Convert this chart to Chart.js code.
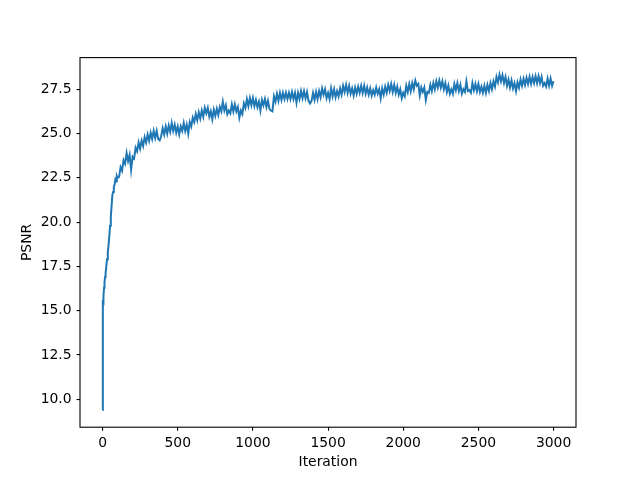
<!DOCTYPE html>
<html>
<head>
<meta charset="utf-8">
<script src="https://cdn.jsdelivr.net/npm/chart.js@4/dist/chart.umd.min.js"></script>
<style>
html,body{margin:0;padding:0;background:#fff;}
canvas{display:block;}
</style>
</head>
<body>
<canvas id="c" width="640" height="480"></canvas>
<script>
// ---- data ----
const iterations = [
  0,1,2,3,4,5,7,10,13,17,20,25,30,35,40,45,50,55,60,65,70,75,80,85,90,95,100,
  110,120,130,140,150,160,170,180,190,
  200,210,220,230,240,250,260,270,280,290,
  300,310,320,330,340,350,360,370,380,390,
  400,410,420,430,440,450,460,470,480,490,
  500,510,520,530,540,550,560,570,580,590,
  600,610,620,630,640,650,660,670,680,690,
  700,710,720,730,740,750,760,770,780,790,
  800,810,820,830,840,850,860,870,880,890,
  900,910,920,930,940,950,960,970,980,990,
  1000,1010,1020,1030,1040,1050,1060,1070,1080,1090,
  1100,1110,1120,1130,1140,1150,1160,1170,1180,1190,
  1200,1210,1220,1230,1240,1250,1260,1270,1280,1290,
  1300,1310,1320,1330,1340,1350,1360,1370,1380,1390,
  1400,1410,1420,1430,1440,1450,1460,1470,1480,1490,
  1500,1510,1520,1530,1540,1550,1560,1570,1580,1590,
  1600,1610,1620,1630,1640,1650,1660,1670,1680,1690,
  1700,1710,1720,1730,1740,1750,1760,1770,1780,1790,
  1800,1810,1820,1830,1840,1850,1860,1870,1880,1890,
  1900,1910,1920,1930,1940,1950,1960,1970,1980,1990,
  2000,2010,2020,2030,2040,2050,2060,2070,2080,2090,
  2100,2110,2120,2130,2140,2150,2160,2170,2180,2190,
  2200,2210,2220,2230,2240,2250,2260,2270,2280,2290,
  2300,2310,2320,2330,2340,2350,2360,2370,2380,2390,
  2400,2410,2420,2430,2440,2450,2460,2470,2480,2490,
  2500,2510,2520,2530,2540,2550,2560,2570,2580,2590,
  2600,2610,2620,2630,2640,2650,2660,2670,2680,2690,
  2700,2710,2720,2730,2740,2750,2760,2770,2780,2790,
  2800,2810,2820,2830,2840,2850,2860,2870,2880,2890,
  2900,2910,2920,2930,2940,2950,2960,2970,2980,2990,
  2999
];
const psnr = [
  9.39,12.3,15.6,15.2,15.5,15.3,15.8,16.3,16.6,16.9,17.1,17.5,17.9,18.3,18.7,19.2,19.8,20.3,20.9,21.5,21.7,22.0,22.1,22.4,22.3,22.6,22.5,
  22.55,23.1,22.9,23.5,23.3,23.9,23.45,23.8,22.95,
  23.7,23.6,24.2,24.0,24.5,24.15,24.6,24.3,24.8,24.5,
  24.95,24.6,25.05,24.7,25.15,24.75,25.15,24.7,24.62,24.85,
  25.3,24.95,25.4,25.0,25.45,25.1,25.6,25.15,25.5,25.05,
  25.4,24.95,25.4,25.15,25.6,25.15,25.5,25.0,25.65,25.4,
  25.9,25.65,26.1,25.75,26.2,25.85,26.3,25.95,26.45,26.15,
  26.45,25.95,26.25,25.8,26.35,26.0,26.4,26.05,26.5,26.25,
  26.8,26.3,26.6,26.1,26.3,26.15,26.65,26.25,26.65,26.25,
  26.5,25.9,26.3,26.1,26.7,26.45,26.95,26.55,27.0,26.6,
  27.0,26.55,26.9,26.5,26.8,26.3,26.9,26.6,26.95,26.5,
  26.85,26.4,26.3,26.25,27.1,26.8,27.25,26.85,27.3,26.9,
  27.3,26.95,27.3,26.95,27.3,26.95,27.35,26.95,27.3,26.75,
  27.3,26.95,27.4,27.0,27.4,27.0,27.35,26.85,26.7,26.85,
  27.3,26.9,27.35,26.95,27.4,27.05,27.55,27.2,27.5,27.0,
  27.3,26.95,27.55,27.1,27.5,27.05,27.4,27.1,27.55,27.2,
  27.7,27.35,27.75,27.3,27.7,27.25,27.55,27.15,27.6,27.25,
  27.65,27.3,27.7,27.3,27.7,27.25,27.6,27.2,27.55,27.15,
  27.45,27.2,27.6,27.25,27.5,27.0,27.55,27.2,27.65,27.3,
  27.75,27.4,27.8,27.35,27.75,27.3,27.65,27.2,27.5,27.0,
  27.3,27.1,27.7,27.35,27.8,27.4,27.85,27.5,28.0,27.7,
  27.8,27.15,27.6,27.35,27.6,26.9,27.35,27.3,27.75,27.4,
  27.85,27.5,27.95,27.6,28.0,27.6,27.95,27.5,27.85,27.35,
  27.7,27.25,27.5,27.25,27.8,27.45,27.85,27.4,27.75,27.25,
  27.5,27.35,27.95,27.4,27.45,27.3,27.85,27.45,27.8,27.4,
  27.8,27.35,27.65,27.3,27.7,27.3,27.75,27.4,27.85,27.5,
  27.95,27.65,28.2,27.9,28.33,27.95,28.3,27.85,28.2,27.7,
  28.05,27.6,28.0,27.55,27.85,27.4,27.9,27.6,28.05,27.7,
  28.1,27.75,28.15,27.8,28.2,27.8,28.2,27.85,28.25,27.85,
  28.25,27.85,28.2,27.7,27.85,27.65,28.1,27.7,28.1,27.7,
  27.95
];
const xTicks = [0, 500, 1000, 1500, 2000, 2500, 3000];
const yTicks = [10.0, 12.5, 15.0, 17.5, 20.0, 22.5, 25.0, 27.5];
const xLabel = 'Iteration';
const yLabel = 'PSNR';

// ---- chart ----
const points = iterations.map((x, i) => ({x: x, y: psnr[i]}));
const FONT = {family: "'DejaVu Sans', sans-serif", size: 13.9};

const boxPlugin = {
  id: 'box',
  afterDatasetsDraw(chart) {
    const a = chart.chartArea, ctx = chart.ctx;
    ctx.save();
    ctx.strokeStyle = '#000';
    ctx.lineWidth = 1.1;
    ctx.strokeRect(a.left, a.top, a.right - a.left, a.bottom - a.top);
    ctx.restore();
  }
};

new Chart(document.getElementById('c'), {
  type: 'line',
  data: {
    datasets: [{
      data: points,
      borderColor: '#1f77b4',
      borderWidth: 2,
      pointRadius: 0,
      fill: false,
      tension: 0
    }]
  },
  options: {
    responsive: false,
    animation: false,
    devicePixelRatio: 1,
    layout: {padding: {left: 0, right: 64, top: 57.6, bottom: 0}},
    plugins: {legend: {display: false}, tooltip: {enabled: false}},
    scales: {
      x: {
        type: 'linear',
        min: -149.95,
        max: 3148.95,
        afterBuildTicks(s) { s.ticks = xTicks.map(v => ({value: v})); },
        afterFit(s) { s.height = 52.8; },
        grid: {display: true, drawOnChartArea: false, drawTicks: true, tickLength: 3.5, color: '#000', lineWidth: 1.1},
        border: {display: false},
        ticks: {color: '#000', font: FONT, padding: 4.5, maxRotation: 0, autoSkip: false,
                callback: v => String(v)},
        title: {display: true, text: xLabel, color: '#000', font: FONT, padding: {top: 0, bottom: 9}}
      },
      y: {
        type: 'linear',
        min: 8.42,
        max: 29.29,
        afterBuildTicks(s) { s.ticks = yTicks.map(v => ({value: v})); },
        afterFit(s) { s.width = 80; },
        grid: {display: true, drawOnChartArea: false, drawTicks: true, tickLength: 3.5, color: '#000', lineWidth: 1.1},
        border: {display: false},
        ticks: {color: '#000', font: FONT, padding: 4.9, autoSkip: false,
                callback: v => Number(v).toFixed(1)},
        title: {display: true, text: yLabel, color: '#000', font: FONT, padding: {top: 19, bottom: 0}}
      }
    }
  },
  plugins: [boxPlugin]
});
</script>
</body>
</html>
